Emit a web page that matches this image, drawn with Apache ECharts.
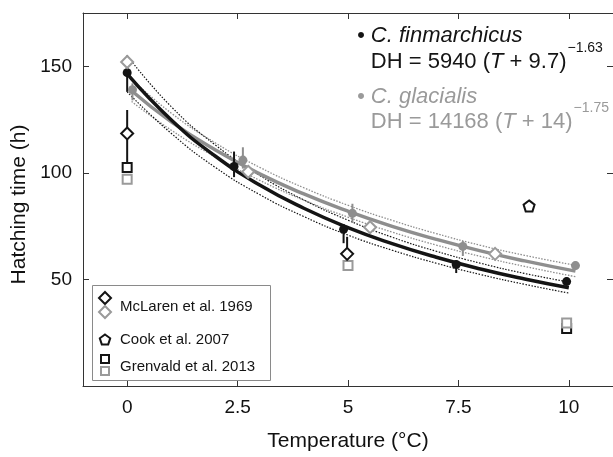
<!DOCTYPE html>
<html><head><meta charset="utf-8">
<script src="https://cdn.jsdelivr.net/npm/echarts@6/dist/echarts.min.js"></script>
<style>html,body{margin:0;padding:0;background:#fff}#c{width:613px;height:457px}</style>
</head><body><div id="c"></div>
<script>
// ---- Data ----
const xTicks = [0, 2.5, 5, 7.5, 10];
const yTicks = [50, 100, 150];

// fitted curves
const finFitT = [0, 1, 2, 3, 4, 5, 6, 7, 8, 9, 10];
const finFit = [146.4, 124.8, 107.8, 94.3, 83.4, 74.3, 66.8, 60.4, 54.9, 50.2, 46.1];
const finUpper = [155, 131, 113, 98.8, 87.3, 77.8, 69.8, 63.2, 57.6, 52.8, 48.8];
const finLower = [138, 118.5, 102.5, 89.8, 79.5, 70.8, 63.7, 57.6, 52.3, 47.7, 43.6];

const glaFitT = [0.1, 1, 2, 3, 4, 5, 6, 7, 8, 9, 10.15];
const glaFit = [138.5, 123.9, 110.7, 99.5, 90.1, 82.0, 74.9, 68.8, 63.4, 58.7, 53.9];
const glaUpper = [144, 128, 114, 102.6, 93, 84.8, 77.7, 71.5, 66, 61.3, 56.6];
const glaLower = [133.5, 120, 107.4, 96.5, 87.2, 79.2, 72.2, 66.1, 60.8, 56.1, 51.3];

// observations with error bars
const finObsT = [0, 2.42, 4.9, 7.45, 9.95];
const finObsH = [147, 103, 73.5, 57, 49];
const finObsLo = [138, 98, 67, 53, 47.5];
const finObsHi = [155, 110, 76, 59, 51];

const glaObsT = [0.12, 2.62, 5.1, 7.6, 10.15];
const glaObsH = [139, 106, 81, 65.5, 56.5];
const glaObsLo = [134, 102, 76.5, 61, 54.5];
const glaObsHi = [142, 112, 85.5, 68, 58.5];

// McLaren et al. 1969
const mclFinT = [0, 4.98];
const mclFinH = [118.5, 62];
const mclFinLo = [104, 57];
const mclFinHi = [129.5, 70];
const mclGlaT = [0, 2.74, 5.5, 8.33];
const mclGlaH = [152, 100.5, 74.5, 62];

// Cook et al. 2007
const cookT = [9.1];
const cookH = [84.5];

// Grenvald et al. 2013
const grnFinT = [0, 9.95];
const grnFinH = [102.5, 27];
const grnGlaT = [0, 5, 9.95];
const grnGlaH = [97, 56.5, 29.5];

// ---- Styling ----
const BLACK = '#141414';
const GRAY = '#9a9a9a';
const GRAYLINE = '#8e8e8e';
const FONT = 'Liberation Sans, Arial, Helvetica, sans-serif';
const PENT = 'path://M0,-1 L0.951,-0.309 L0.588,0.809 L-0.588,0.809 L-0.951,-0.309 Z';

const pairs = (xs, ys) => xs.map((x, i) => [x, ys[i]]);

function errSeries(T, lo, hi, color, z) {
  return {
    type: 'custom', silent: true, z: z,
    data: T.map((t, i) => [t, lo[i], hi[i]]),
    encode: { x: 0, y: [1, 2] },
    renderItem: (params, api) => {
      const p1 = api.coord([api.value(0), api.value(1)]);
      const p2 = api.coord([api.value(0), api.value(2)]);
      return { type: 'line', shape: { x1: p1[0], y1: p1[1], x2: p2[0], y2: p2[1] },
               style: { stroke: color, lineWidth: 2 } };
    }
  };
}
function lineSeries(T, V, color, width, type, z) {
  return {
    type: 'line', data: pairs(T, V), smooth: true, showSymbol: false, silent: true, z: z,
    lineStyle: { color: color, width: width, type: type }
  };
}
function scatter(T, V, symbol, size, fill, stroke, bw, z) {
  return {
    type: 'scatter', data: pairs(T, V), symbol: symbol, symbolSize: size, silent: true, z: z,
    itemStyle: { color: fill, borderColor: stroke, borderWidth: bw, opacity: 1 }
  };
}

// measure text to place superscripts
const mctx = document.createElement('canvas').getContext('2d');
function tw(font, s) { mctx.font = font; return mctx.measureText(s).width; }

const MAINSIZE = 22, SUPSIZE = 14;
const fN = MAINSIZE + 'px ' + FONT, fI = 'italic ' + MAINSIZE + 'px ' + FONT;
const annX = 357;
const formX = annX + tw(fI, '\u2022 ');
function formulaGraphics(a, b, sup, color, y) {
  const w1 = tw(fN, a), w2 = tw(fI, 'T'), w3 = tw(fN, b);
  return [
    { type: 'text', x: formX, y: y, style: { text: '{n|' + a + '}{i|T}{n|' + b + '}',
      rich: { n: { fontSize: MAINSIZE, fontFamily: FONT, fill: color, color: color },
              i: { fontSize: MAINSIZE, fontFamily: FONT, fontStyle: 'italic', fill: color, color: color } },
      verticalAlign: 'middle', align: 'left' } },
    { type: 'text', x: formX + w1 + w2 + w3 + 1, y: y - 14, style: { text: sup, fontSize: SUPSIZE,
      fontFamily: FONT, fill: color, verticalAlign: 'middle', align: 'left' } }
  ];
}

const legendG = [
  { type: 'rect', shape: { x: 92.5, y: 285.5, width: 178, height: 95 }, style: { fill: '#fff', stroke: '#8a8a8a', lineWidth: 1 }, z: 10 },
  { type: 'polygon', shape: { points: [[105, 292], [111, 298], [105, 304], [99, 298]] }, style: { fill: '#fff', stroke: BLACK, lineWidth: 2 }, z: 11 },
  { type: 'polygon', shape: { points: [[105, 306], [111, 312], [105, 318], [99, 312]] }, style: { fill: '#fff', stroke: GRAY, lineWidth: 2 }, z: 11 },
  { type: 'text', x: 120, y: 307, style: { text: 'McLaren et al. 1969', fontSize: 15, fontFamily: FONT, fill: BLACK, verticalAlign: 'middle' }, z: 11 },
  { type: 'polygon', shape: { points: [[105, 334.5], [110.2, 338.3], [108.2, 344.4], [101.8, 344.4], [99.8, 338.3]] }, style: { fill: '#fff', stroke: BLACK, lineWidth: 2 }, z: 11 },
  { type: 'text', x: 120, y: 340, style: { text: 'Cook et al. 2007', fontSize: 15, fontFamily: FONT, fill: BLACK, verticalAlign: 'middle' }, z: 11 },
  { type: 'rect', shape: { x: 101, y: 355, width: 8, height: 8 }, style: { fill: '#fff', stroke: BLACK, lineWidth: 2 }, z: 11 },
  { type: 'rect', shape: { x: 101, y: 367, width: 8, height: 8 }, style: { fill: '#fff', stroke: GRAY, lineWidth: 2 }, z: 11 },
  { type: 'text', x: 120, y: 367, style: { text: 'Grenvald et al. 2013', fontSize: 15, fontFamily: FONT, fill: BLACK, verticalAlign: 'middle' }, z: 11 }
];

const annG = [
  { type: 'text', x: annX, y: 36, style: { text: '\u2022 C. finmarchicus', fontSize: MAINSIZE, fontStyle: 'italic', fontFamily: FONT, fill: BLACK, verticalAlign: 'middle' } },
  ...formulaGraphics('DH = 5940 (', ' + 9.7)', '\u22121.63', BLACK, 62),
  { type: 'text', x: annX, y: 97, style: { text: '\u2022 C. glacialis', fontSize: MAINSIZE, fontStyle: 'italic', fontFamily: FONT, fill: GRAY, verticalAlign: 'middle' } },
  ...formulaGraphics('DH = 14168 (', ' + 14)', '\u22121.75', GRAY, 122)
];

const axCommon = {
  type: 'value', splitLine: { show: false },
  axisLine: { show: true, onZero: false, lineStyle: { color: '#333', width: 1 } }
};

const chart = echarts.init(document.getElementById('c'), null, { renderer: 'canvas' });
chart.setOption({
  animation: false,
  backgroundColor: '#fff',
  textStyle: { fontFamily: FONT },
  grid: { left: 83, right: 0, top: 13, bottom: 65, containLabel: false },
  xAxis: [
    Object.assign({}, axCommon, { min: -1, max: 11, position: 'bottom',
      axisTick: { inside: true, length: 6, customValues: xTicks, lineStyle: { color: '#333' } },
      axisLabel: { customValues: xTicks, fontSize: 19, color: '#111', margin: 12, fontFamily: FONT },
      name: 'Temperature (\u00b0C)', nameLocation: 'middle', nameGap: 45,
      nameTextStyle: { fontSize: 21, color: '#111', fontFamily: FONT } }),
    Object.assign({}, axCommon, { min: -1, max: 11, position: 'top',
      axisTick: { inside: true, length: 6, customValues: xTicks, lineStyle: { color: '#333' } },
      axisLabel: { show: false } })
  ],
  yAxis: [
    Object.assign({}, axCommon, { min: 0, max: 175, position: 'left',
      axisTick: { inside: true, length: 6, customValues: yTicks, lineStyle: { color: '#333' } },
      axisLabel: { customValues: yTicks, fontSize: 19, color: '#111', margin: 11, fontFamily: FONT },
      name: 'Hatching time (h)', nameLocation: 'middle', nameGap: 51,
      nameTextStyle: { fontSize: 21, color: '#111', fontFamily: FONT, padding: [0, 10, 0, 0] } }),
    Object.assign({}, axCommon, { min: 0, max: 175, position: 'right',
      axisTick: { inside: true, length: 6, customValues: yTicks, lineStyle: { color: '#333' } },
      axisLabel: { show: false } })
  ],
  graphic: [...annG, ...legendG],
  series: [
    lineSeries(glaFitT, glaUpper, GRAYLINE, 1.3, [1.5, 1.5], 1),
    lineSeries(glaFitT, glaLower, GRAYLINE, 1.3, [1.5, 1.5], 1),
    lineSeries(finFitT, finUpper, BLACK, 1.2, [1.5, 1.5], 1),
    lineSeries(finFitT, finLower, BLACK, 1.2, [1.5, 1.5], 1),
    lineSeries(glaFitT, glaFit, GRAYLINE, 3.5, 'solid', 2),
    lineSeries(finFitT, finFit, BLACK, 3.5, 'solid', 2),
    errSeries(mclFinT, mclFinLo, mclFinHi, BLACK, 3),
    errSeries(glaObsT, glaObsLo, glaObsHi, GRAYLINE, 3),
    errSeries(finObsT, finObsLo, finObsHi, BLACK, 3),
    scatter(grnFinT, grnFinH, 'rect', 9, '#fff', BLACK, 2, 4),
    scatter(grnGlaT, grnGlaH, 'rect', 9, '#fff', GRAY, 2, 5),
    scatter(cookT, cookH, PENT, 11, '#fff', BLACK, 2, 5),
    scatter(mclFinT, mclFinH, 'diamond', 12, '#fff', BLACK, 2, 5),
    scatter(glaObsT, glaObsH, 'circle', 9, GRAYLINE, GRAYLINE, 0, 5),
    scatter(finObsT, finObsH, 'circle', 9, BLACK, BLACK, 0, 6),
    scatter(mclGlaT, mclGlaH, 'diamond', 12, '#fff', GRAY, 2, 6)
  ]
});
</script></body></html>
